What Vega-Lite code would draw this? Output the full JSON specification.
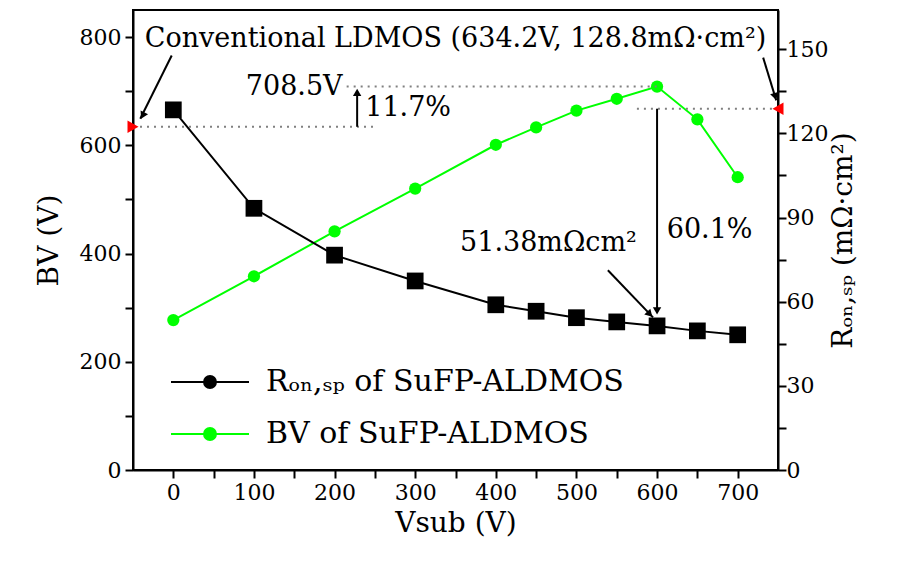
{
  "$schema": "https://vega.github.io/schema/vega-lite/v6.json",
  "width": 645,
  "height": 460,
  "autosize": {"type": "none"},
  "padding": {"left": 133, "top": 10, "right": 122, "bottom": 92},
  "background": "white",
  "config": {
    "font": "DejaVu Serif",
    "view": {"stroke": "black", "strokeWidth": 2},
    "axis": {
      "domainColor": "black", "domainWidth": 2, "tickColor": "black", "tickWidth": 2,
      "labelColor": "black", "labelFont": "DejaVu Serif", "labelFontSize": 22,
      "titleFont": "DejaVu Serif", "titleFontSize": 28, "titleFontWeight": "normal", "titleColor": "black",
      "grid": false, "tickSize": 8, "labelPadding": 4
    }
  },
  "datasets": {
    "main": [
      {"v": 0, "bv": 277, "r": 128.4},
      {"v": 100, "bv": 358, "r": 93.3},
      {"v": 200, "bv": 441, "r": 76.6},
      {"v": 300, "bv": 520, "r": 67.4},
      {"v": 400, "bv": 601, "r": 58.9},
      {"v": 450, "bv": 633, "r": 56.6},
      {"v": 500, "bv": 664, "r": 54.3},
      {"v": 550, "bv": 686, "r": 52.8},
      {"v": 600, "bv": 708.5, "r": 51.38},
      {"v": 650, "bv": 648, "r": 49.6},
      {"v": 700, "bv": 541, "r": 48.2}
    ],
    "hdots": [
      {"v": -50, "v2": 250, "bv": 634.2},
      {"v": 215, "v2": 600, "bv": 708.5},
      {"v": 575, "v2": 750, "bv": 667.6}
    ],
    "vlines": [
      {"v": 228, "bv": 634.2, "bv2": 700},
      {"v": 600, "bv": 667.6, "bv2": 292}
    ],
    "diag": [
      {"v": -2, "bv": 766, "v2": -41, "bv2": 649},
      {"v": 731.6, "bv": 762, "v2": 747.8, "bv2": 683},
      {"v": 539, "bv": 369, "v2": 595, "bv2": 282}
    ],
    "heads": [
      {"v": -38, "bv": 655, "angle": 207},
      {"v": 746.5, "bv": 690, "angle": 163},
      {"v": 591, "bv": 288, "angle": 136},
      {"v": 228, "bv": 698, "angle": 0},
      {"v": 600, "bv": 294, "angle": 180}
    ],
    "redmarks": [
      {"v": -50, "bv": 634.2, "shape": "triangle-right"},
      {"v": 750, "bv": 667.6, "shape": "triangle-left"}
    ],
    "tcenter": [
      {"v": 350, "bv": 797, "label": "Conventional LDMOS (634.2V, 128.8mΩ·cm²)"}
    ],
    "tright": [
      {"v": 210, "bv": 707, "label": "708.5V"},
      {"v": 575, "bv": 419, "label": "51.38mΩcm²"}
    ],
    "tleft": [
      {"v": 238, "bv": 668, "label": "11.7%"},
      {"v": 612, "bv": 443, "label": "60.1%"}
    ]
  },
  "layer": [
    {
      "encoding": {
        "x": {
          "field": "v", "type": "quantitative",
          "scale": {"domain": [-50, 750], "nice": false},
          "axis": {
            "title": "Vsub (V)", "titlePadding": 6,
            "values": [0, 50, 100, 150, 200, 250, 300, 350, 400, 450, 500, 550, 600, 650, 700],
            "labelExpr": "datum.value % 100 === 0 ? datum.label : ''",
            "encode": {"ticks": {"update": {"y2": {"signal": "datum.value % 100 === 0 ? 8 : 4"}}}}
          }
        },
        "y": {
          "field": "bv", "type": "quantitative",
          "scale": {"domain": [0, 850], "nice": false},
          "axis": {
            "title": "BV (V)", "titlePadding": 16, "orient": "left",
            "values": [0, 100, 200, 300, 400, 500, 600, 700, 800],
            "labelExpr": "datum.value % 200 === 0 ? datum.label : ''",
            "encode": {"ticks": {"update": {"x2": {"signal": "datum.value % 200 === 0 ? -8 : -4"}}}}
          }
        }
      },
      "layer": [
        {
          "data": {"name": "main"},
          "mark": {"type": "line", "strokeWidth": 2, "point": {"filled": true, "size": 150, "shape": "circle"}},
          "encoding": {
            "color": {
              "datum": "BV of SuFP-ALDMOS",
              "scale": {"domain": ["Rₒₙ,ₛₚ of SuFP-ALDMOS", "BV of SuFP-ALDMOS"], "range": ["black", "#00ff00"]},
              "legend": {
                "orient": "none", "legendX": 62, "legendY": 357, "title": null, "padding": 0,
                "symbolType": "M-3,0H-0.46M0.46,0H3M-0.46,0A0.46,0.46,0,1,1,0.46,0A0.46,0.46,0,1,1,-0.46,0Z",
                "symbolSize": 676, "symbolStrokeWidth": 2,
                "labelFont": "DejaVu Serif", "labelFontSize": 30, "labelColor": "black", "labelLimit": 500,
                "labelOffset": 41, "rowPadding": 22,
                "encode": {"symbols": {"update": {
                  "fill": {"scale": "color", "field": "value"},
                  "stroke": {"scale": "color", "field": "value"},
                  "strokeWidth": {"value": 2},
                  "opacity": {"value": 1}
                }}}
              }
            }
          }
        },
        {
          "data": {"name": "hdots"},
          "mark": {"type": "rule", "color": "#808080", "strokeWidth": 2, "strokeDash": [2, 5]},
          "encoding": {"x2": {"field": "v2"}}
        },
        {
          "data": {"name": "vlines"},
          "mark": {"type": "rule", "color": "black", "strokeWidth": 2},
          "encoding": {"y2": {"field": "bv2"}}
        },
        {
          "data": {"name": "diag"},
          "mark": {"type": "rule", "color": "black", "strokeWidth": 2},
          "encoding": {"x2": {"field": "v2"}, "y2": {"field": "bv2"}}
        },
        {
          "data": {"name": "heads"},
          "mark": {"type": "point", "shape": "triangle-up", "filled": true, "color": "black", "size": 70, "opacity": 1},
          "encoding": {"angle": {"field": "angle", "type": "quantitative", "scale": null}}
        },
        {
          "data": {"name": "redmarks"},
          "mark": {"type": "point", "filled": true, "color": "red", "size": 160, "opacity": 1},
          "encoding": {"shape": {"field": "shape", "type": "nominal", "scale": null}}
        },
        {
          "data": {"name": "tcenter"},
          "mark": {"type": "text", "align": "center", "baseline": "middle", "font": "DejaVu Serif", "fontSize": 27, "color": "black"},
          "encoding": {"text": {"field": "label"}}
        },
        {
          "data": {"name": "tright"},
          "mark": {"type": "text", "align": "right", "baseline": "middle", "font": "DejaVu Serif", "fontSize": 27, "color": "black"},
          "encoding": {"text": {"field": "label"}}
        },
        {
          "data": {"name": "tleft"},
          "mark": {"type": "text", "align": "left", "baseline": "middle", "font": "DejaVu Serif", "fontSize": 27, "color": "black"},
          "encoding": {"text": {"field": "label"}}
        }
      ]
    },
    {
      "layer": [
        {
          "data": {"name": "main"},
          "mark": {"type": "line", "strokeWidth": 2, "point": {"filled": true, "size": 280, "shape": "square"}},
          "encoding": {
            "x": {"field": "v", "type": "quantitative", "scale": {"domain": [-50, 750], "nice": false}},
            "y": {
              "field": "r", "type": "quantitative",
              "scale": {"domain": [0, 164], "nice": false},
              "axis": {
                "title": "Rₒₙ,ₛₚ (mΩ·cm²)", "orient": "right", "titleAngle": -90, "titlePadding": 30,
                "labelPadding": 0,
                "values": [0, 15, 30, 45, 60, 75, 90, 105, 120, 135, 150],
                "labelExpr": "datum.value % 30 === 0 ? datum.label : ''",
                "encode": {"ticks": {"update": {"x2": {"signal": "datum.value % 30 === 0 ? -8 : -4"}}}}
              }
            },
            "color": {
              "datum": "Rₒₙ,ₛₚ of SuFP-ALDMOS",
              "scale": {"domain": ["Rₒₙ,ₛₚ of SuFP-ALDMOS", "BV of SuFP-ALDMOS"], "range": ["black", "#00ff00"]},
              "legend": {
                "orient": "none", "legendX": 62, "legendY": 357, "title": null, "padding": 0,
                "symbolType": "M-3,0H-0.46M0.46,0H3M-0.46,0A0.46,0.46,0,1,1,0.46,0A0.46,0.46,0,1,1,-0.46,0Z",
                "symbolSize": 676, "symbolStrokeWidth": 2,
                "labelFont": "DejaVu Serif", "labelFontSize": 30, "labelColor": "black", "labelLimit": 500,
                "labelOffset": 41, "rowPadding": 22,
                "encode": {"symbols": {"update": {
                  "fill": {"scale": "color", "field": "value"},
                  "stroke": {"scale": "color", "field": "value"},
                  "strokeWidth": {"value": 2},
                  "opacity": {"value": 1}
                }}}
              }
            }
          }
        }
      ]
    }
  ],
  "resolve": {"scale": {"y": "independent"}}
}
